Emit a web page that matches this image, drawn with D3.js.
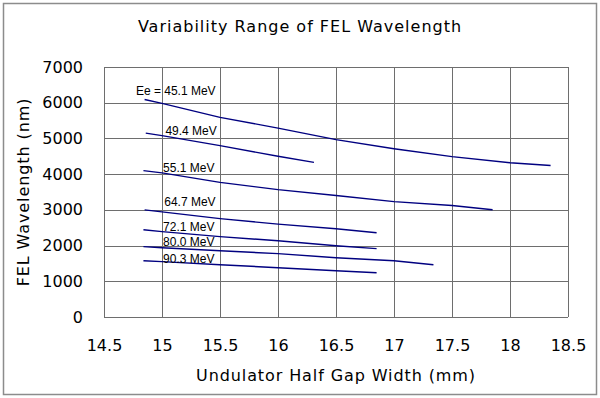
<!DOCTYPE html>
<html>
<head>
<meta charset="UTF-8" />
<title>Variability Range of FEL Wavelength</title>
<script src="https://d3js.org/d3.v7.min.js"></script>
<style>
  body { margin: 0; background: #fff; }
  text { fill: #000; }
  .big { font-family: "DejaVu Sans", sans-serif; font-size: 16px; }
  .wide { letter-spacing: 0.9px; }
  .lbl { font-family: "Liberation Sans", Arial, sans-serif; font-size: 12px; }
  .grid line { stroke: #6e6e6e; stroke-width: 1px; shape-rendering: crispEdges; }
  .series { fill: none; stroke: #000080; stroke-width: 1.4px; }
</style>
</head>
<body>
<svg id="chart" width="600" height="398"></svg>
<script>
// beam energies (labels) and the measured curves: gap (mm) vs wavelength (nm)
const energies = ["Ee = 45.1 MeV", "49.4 MeV", "55.1 MeV", "64.7 MeV", "72.1 MeV", "80.0 MeV", "90.3 MeV"];

const gap451 = [14.85, 15.0, 15.5, 16.0, 16.5, 17.0, 17.5, 18.0, 18.35];
const wl451  = [6090, 5980, 5590, 5290, 4965, 4710, 4490, 4320, 4240];

const gap494 = [14.86, 15.0, 15.5, 16.0, 16.31];
const wl494  = [5150, 5080, 4800, 4500, 4330];

const gap551 = [14.84, 15.0, 15.5, 16.0, 16.5, 17.0, 17.5, 17.85];
const wl551  = [4100, 4035, 3770, 3565, 3400, 3230, 3120, 3005];

const gap647 = [14.85, 15.0, 15.5, 16.0, 16.5, 16.85];
const wl647  = [3000, 2945, 2755, 2600, 2470, 2360];

const gap721 = [14.84, 15.0, 15.5, 16.0, 16.5, 16.85];
const wl721  = [2445, 2390, 2250, 2135, 1995, 1915];

const gap800 = [14.84, 15.0, 15.5, 16.0, 16.5, 17.0, 17.34];
const wl800  = [1970, 1940, 1855, 1775, 1660, 1575, 1465];

const gap903 = [14.84, 15.0, 15.5, 16.0, 16.5, 16.85];
const wl903  = [1575, 1550, 1465, 1380, 1295, 1240];

const xTicks = [14.5, 15, 15.5, 16, 16.5, 17, 17.5, 18, 18.5];
const yTicks = [0, 1000, 2000, 3000, 4000, 5000, 6000, 7000];

const gaps = [gap451, gap494, gap551, gap647, gap721, gap800, gap903];
const wls  = [wl451, wl494, wl551, wl647, wl721, wl800, wl903];
// vertical nudge of each label relative to the first point
const labelDy = [-5, 2, 1, -4, 1, -1, 2];

const svg = d3.select("#chart");
const W = 600, H = 398;
const m = { left: 104, right: 32, top: 67, bottom: 81 };

// outer frame
svg.append("rect")
  .attr("x", 3.5).attr("y", 3.5)
  .attr("width", W - 7).attr("height", H - 7)
  .attr("fill", "#fff").attr("stroke", "#8c8c8c").attr("stroke-width", 1.5);

const x = d3.scaleLinear().domain([14.5, 18.5]).range([m.left, W - m.right]);
const y = d3.scaleLinear().domain([0, 7000]).range([H - m.bottom, m.top]);

// grid
const grid = svg.append("g").attr("class", "grid");
grid.selectAll(".v").data(xTicks).join("line")
  .attr("x1", d => Math.round(x(d)) + 0.5).attr("x2", d => Math.round(x(d)) + 0.5)
  .attr("y1", y(0)).attr("y2", y(7000));
grid.selectAll(".h").data(yTicks).join("line")
  .attr("x1", x(14.5)).attr("x2", x(18.5))
  .attr("y1", d => Math.round(y(d)) + 0.5).attr("y2", d => Math.round(y(d)) + 0.5);

// axes (labels only, no tick marks)
const xAxis = svg.append("g")
  .attr("transform", `translate(0,${y(0)})`)
  .call(d3.axisBottom(x).tickValues(xTicks).tickSize(0).tickPadding(23).tickFormat(d3.format("")));
const yAxis = svg.append("g")
  .attr("transform", `translate(${x(14.5)},0)`)
  .call(d3.axisLeft(y).tickValues(yTicks).tickSize(0).tickPadding(21).tickFormat(d3.format("")));
[xAxis, yAxis].forEach(a => {
  a.attr("font-family", null).attr("font-size", null);
  a.select(".domain").remove();
  a.selectAll("text").attr("class", "big");
});

// series
const line = d3.line().x(d => x(d[0])).y(d => y(d[1]));
gaps.forEach((g, i) => {
  const pts = g.map((v, j) => [v, wls[i][j]]);
  svg.append("path").attr("class", "series").attr("d", line(pts));
  svg.append("text")
    .attr("class", "lbl")
    .attr("x", x(g[0]) + 71)
    .attr("y", y(wls[i][0]) + labelDy[i])
    .attr("text-anchor", "end")
    .text(energies[i]);
});

// titles
svg.append("text").attr("class", "big").style("letter-spacing", "1px")
  .attr("x", 300).attr("y", 32)
  .attr("text-anchor", "middle")
  .text("Variability Range of FEL Wavelength");
svg.append("text").attr("class", "big wide")
  .attr("x", (x(14.5) + x(18.5)) / 2).attr("y", 381)
  .attr("text-anchor", "middle")
  .text("Undulator Half Gap Width (mm)");
svg.append("text").attr("class", "big wide")
  .attr("transform", `translate(29,${(y(0) + y(7000)) / 2}) rotate(-90)`)
  .attr("text-anchor", "middle")
  .text("FEL Wavelength (nm)");
</script>
</body>
</html>
